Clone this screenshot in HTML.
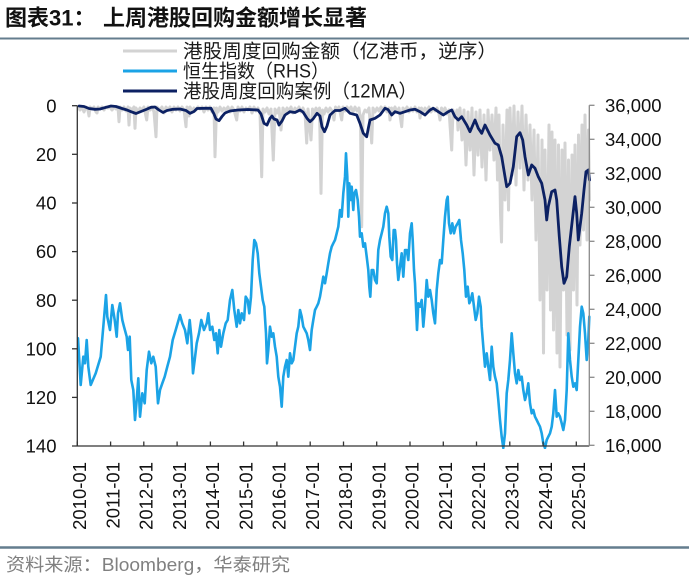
<!DOCTYPE html>
<html>
<head>
<meta charset="utf-8">
<style>
  html,body{margin:0;padding:0;background:#ffffff;}
  svg{display:block;}
  text{font-family:"Liberation Sans","Noto Sans CJK SC",sans-serif;}
</style>
</head>
<body>
<svg width="689" height="586" viewBox="0 0 689 586" xmlns="http://www.w3.org/2000/svg">
  <defs>
    <clipPath id="plot"><rect x="77" y="100" width="514" height="349"/></clipPath>
  </defs>
  <rect width="689" height="586" fill="#ffffff"/>

  <!-- Title -->
  <text x="5" y="25.5" font-size="22" font-weight="bold" fill="#111">图表31：</text>
  <text x="103" y="25.5" font-size="22" font-weight="bold" fill="#111">上周港股回购金额增长显著</text>
  <line x1="0" y1="38.5" x2="689" y2="38.5" stroke="#647d8e" stroke-width="2"/>

  <!-- Legend -->
  <line x1="123" y1="51" x2="177" y2="51" stroke="#d3d3d3" stroke-width="3"/>
  <text x="183" y="57.5" font-size="19" fill="#1a1a1a" textLength="314" lengthAdjust="spacingAndGlyphs">港股周度回购金额（亿港币，逆序）</text>
  <line x1="123" y1="71" x2="177" y2="71" stroke="#1ba3e6" stroke-width="3"/>
  <text x="183" y="77.5" font-size="19" fill="#1a1a1a" textLength="146" lengthAdjust="spacingAndGlyphs">恒生指数（RHS）</text>
  <line x1="123" y1="91" x2="177" y2="91" stroke="#0c2163" stroke-width="3"/>
  <text x="183" y="97.5" font-size="19" fill="#1a1a1a" textLength="234" lengthAdjust="spacingAndGlyphs">港股周度回购案例（12MA）</text>

  <!-- Series -->
  <g clip-path="url(#plot)" fill="none" stroke-linejoin="round" stroke-linecap="round">
    <polyline stroke="#d3d3d3" stroke-width="3" points="78,107 80,110 82,107 84,112 86,107 88,110 89,116 90,107 92,109 94,107 96,112 97,113 98,107 100,109 102,107 104,110 106,107 108,108 110,107 112,110 114,107 116,109 118,107 119,121.7 120,107 122,110 124,107 126,111 128,107 129,125 130,108 132,110 134,107 135,128.3 136,108 138,112 140,108 142,110 144,107 146.7,120 148,107 150,110 152,107 154,112 156,136.7 157,107 160,110 162,107 164,113 166,107 168,110 170,107 172,112 174,107 176,110 178,107 180,111 182,107 184,110 186,126.7 187,107 189,116 190,107 192,111 194,108 196,110 198,107 200,109 202,107 204,112 206,107 208,110 210,107 212,112 214,108 215,156.7 216.5,108 218,112 220,107 222,111 224,108 226,110 228,107 230,112 232,107 234,110 236.7,120 238,107 240,111 242,107 244,112 246,108 248,110 250,107 252,113 254,107 256,111 258,108 260,112 261.7,176.7 263,109 265,112 267,108 269,114 271,109 273.3,160 275,109 277,113 279,108 281,130 283,108 285,112 287,108 289,111 291,107 293,113 295,108 297,111 299,107 301,112 303,108 305,113 306.7,143 308,109 311,140 312.5,109 314,113 316,108 318,112 319.5,108 321,193.3 322.5,110 324,114 326,108 328,112 330,108 332,111 334,120 335.5,107 337,110 339,107 341.7,120 343,107 345,111 347,107 349,110 351,107 353,112 355,107 357,111 359,108 360.5,120 361.7,226.7 363,115 365,110 367,112 369,108 371.7,143 373,108 375,112 377,108 379,111 381,107 383,110 385,107 387,112 389,108 390,120 391.5,108 393,111 395,107 397,112 399,108 401.7,126.7 403,108 405,111 407,107 409,112 411,108 413,111 415,107 417,112 419,108 420,118 421.5,108 423,113 425,108 427,111 429,107 431,112 433,108 435,111 437,108 439,114 440,120 441.5,108 443,112 445,108 447,114 449,110 451.7,150 453,110 455,118 457,110 458,130 459.5,110 460,108 462,140 464,110 466,165 468,112 470,150 472,108 474,175 476,112 478,155 480,110 482,167 484,115 486,180 488,110 490,150 492,115 494,160 496,108 497.5,180 499,115 500.5,213 501.5,242 503,125 505,200 507,110 508.5,210 510,108 512,175 514,106 516,185 518,112 520,168 522,106 524,190 526,115 528,180 530,125 532,200 534,130 536,240 538,135 540,300 542,140 543.5,353 545,150 547,290 549,125 550.5,310 552,132 553.5,330 555,140 557,353 558.5,145 560,367 562,150 563.5,290 565,143 567,335 568.5,160 570,350 572,155 573.5,290 575,145 577,305 578.5,135 580,245 582,125 583.5,230 585,115 587,240 588.5,130 589.5,200"/>

    <polyline stroke="#1ba3e6" stroke-width="2.6" points="78,338.3 80.7,385 83.3,356.7 85,363.3 86.7,340 88.3,366.7 90.7,385 95.7,373.3 100.7,356.7 103.3,326.7 106,295 107.3,316.7 110,330 112.3,305 114.7,320 116.7,336.7 118,313.3 120,303.3 122.3,320 124,326.7 126.7,336.7 128,350 129.7,336.7 131.3,380 133.3,390 135,420 136.7,400 138.3,378.3 140,416.7 142.3,393.3 144.7,403.3 146.7,370 149,351.7 151.3,363.3 153.3,356.7 155.7,366.7 158,403.3 160,390 162.3,383.3 164.7,376.7 167.3,366.7 170,356.7 172.7,340 175.7,330 180,315 182.3,323.3 185,330 187.3,343.3 189.7,320 191.3,336.7 193,373.3 194.7,360 196.7,343.3 199,333.3 201.3,320 204,330 206.7,323.3 208.3,313.3 210,330 212.3,326.7 214.3,340 216,333.3 217.7,353.3 219.3,330 221,346.7 223.3,333.3 225.7,323.3 227.7,320 230,300 232.3,290 234.3,310 236.7,326.7 238.3,310 240,323.3 241.7,313.3 244,320 245.7,296.7 247.7,300 249.3,313.3 251,296.7 252.7,260 254.3,240 256,243.3 257.7,253.3 259.3,273.3 261,286.7 262.7,300 264.3,306.7 266,333.3 267,363.3 268.3,350 270,326.7 271.7,336.7 273.3,333.3 275,346.7 276.7,356.7 278.3,376.7 280,386.7 281.7,406.7 283.3,376.7 285,366.7 286.7,360 288.3,376.7 290,353.3 291.7,363.3 293.3,360 295,346.7 296.7,333.3 298.3,326.7 300,310 301.7,316.7 303.3,326.7 305,330 306.7,333.3 308.3,340 310,350 311.7,330 313.3,320 315,310 316.7,306.7 318.3,303.3 320,296.7 321.7,286.7 323.3,276.7 325,283.3 326.7,273.3 328.3,263.3 330,253.3 331.7,246.7 333.3,243.3 335,240 336.7,233.3 338.3,226.7 340,210 341.7,216.7 343.3,193.3 345,176.7 346,153.3 347.3,176.7 348.3,216.7 349.3,183.3 350.7,200 351.7,186.7 353.3,210 354.3,193.3 356,190 357.7,200 359,216.7 360,236.7 361.7,233.3 363.3,246.7 365,243.3 366.7,256.7 368.3,270 369.3,286.7 370.3,296.7 371.7,270 373.3,270 375,280 376.7,283.3 378.3,250 380,240 381.7,233.3 383.3,226.7 385,213.3 386.7,206.7 388.3,213.3 389.3,236.7 390.7,256.7 392.3,260 393.7,230 395,230 396,240 397,263.3 398.3,280 400,266.7 401.7,253.3 403.3,276.7 405,250 406.7,250 408.3,260 410,233.3 411.7,223.3 412.7,240 414,270 415,283.3 416,306.7 417,330 418.3,303.3 420,306.7 421.7,300 423.3,326.7 425,306.7 426.7,280 428.3,296.7 430,290 431.7,300 433.3,313.3 435,323.3 436.7,290 438.3,273.3 440,260 441.7,263.3 443.3,240 445,216.7 446.7,200 447.7,196.7 449,223.3 450.7,233.3 452.3,223.3 454,233.3 455.7,226.7 457.7,223.3 459.3,220 461,240 462.7,253.3 464.3,270 466,296.7 467.7,286.7 469.3,303.3 470.7,300 472.3,293.3 474,306.7 475.7,320 477.3,313.3 479,296.7 480.7,306.7 481.7,326.7 483.3,346.7 485,366.7 486.7,353.3 488.3,366.7 490,380 491.7,346.7 493.3,366.7 495,376.7 496.7,383.3 498.3,400 500,420 501.7,436.7 503.3,448 505,433.3 506.7,393.3 508.3,380 510,360 511.7,333.3 513.3,353.3 515,373.3 516.7,383.3 518.3,370 520,380 521.7,376.7 523.3,390 525,400 526.7,393.3 528.3,383.3 530,403.3 531.7,413.3 533.3,410 535,416.7 536.7,420 538.3,423.3 540,426.7 541.7,433.3 543.3,443.3 545,448 546.7,440 548.3,436.7 550,433.3 551.7,426.7 553.3,413.3 555,390 556.7,416.7 558.3,413.3 560,416.7 561.7,423.3 563.3,430 565,420 566.7,390 568.3,333.3 570,360 571.7,376.7 573.3,386.7 575,383.3 576.7,390 578.3,360 580,326.7 581.7,306.7 583.3,313.3 585,333.3 586.7,360 588.3,340 589.3,316.7"/>

    <polyline stroke="#0c2163" stroke-width="2.8" points="79,106 84,106.5 89,108.5 95,109.3 100,109 106,107.3 111,106 116,106.5 122,108.5 127,110 131,111.7 136,113.5 141,111.5 146,109.5 151,107.3 155,107 159,110 163,112.5 167,110.5 173,109.3 180,109 186,110.5 190,113.3 194,111.5 197,108.5 205,108.3 211,108.3 214,114 216,119 219,120.7 222,116.5 225,113 230,111 238,110 248,109.5 258,110 261,114 264,123.3 267,125 270,118.3 272,116 274,119 277,120 279,125 282,121 285,115 290,111.7 295,112.5 300,110 303,112 307,118.3 310,121.7 313,119 317,113.3 320,116 322,126.7 324.5,131.7 327,126 330,115 335,110.5 340,110.5 345,108.3 350,113.3 356.7,115 360,123.3 363.3,133.3 366.7,136.7 368.3,128.3 370,120 375,118.3 380,115 385,108.3 388,109.5 391.7,115 395,111.7 400,113.3 405,111.7 410,110 415,109.3 420,111.7 425,115 430,110 433.3,108.3 438.3,111.7 443.3,115 448.3,111.7 451.7,110 455,116.7 458.3,120 461.7,116.7 466.7,125 470,131.7 475,120 478.3,128.3 481.7,133.3 485,125 490,135 495,143.3 498.3,145 501.7,156.7 505,176.7 506.7,186.7 510,183.3 513.3,166.7 516.7,136.7 520,132.7 522.7,140 525,156.7 528.3,175 531.7,165 535,168.3 538.3,176.7 541.7,183.3 545,200 546.7,220 548.3,206.7 551.7,191.7 555,190 556.7,200 559.3,236.7 561.7,266.7 564,283.3 566.7,276.7 569.3,246.7 572.7,216.7 575,196.7 576.7,213.3 578.3,240 581.7,213.3 584,190 586,171.7 588.3,170 589.5,180"/>
  </g>

  <!-- Left axis -->
  <g stroke="#333" stroke-width="1.3">
    <line x1="77.3" y1="105.7" x2="77.3" y2="446"/>
    <line x1="72" y1="446" x2="589.3" y2="446"/>
    <line x1="72" y1="105.7" x2="77.3" y2="105.7"/>
    <line x1="72" y1="154.3" x2="77.3" y2="154.3"/>
    <line x1="72" y1="203" x2="77.3" y2="203"/>
    <line x1="72" y1="251.6" x2="77.3" y2="251.6"/>
    <line x1="72" y1="300.2" x2="77.3" y2="300.2"/>
    <line x1="72" y1="348.8" x2="77.3" y2="348.8"/>
    <line x1="72" y1="397.4" x2="77.3" y2="397.4"/>
    <line x1="77.3" y1="441.5" x2="77.3" y2="446"/>
    <line x1="110.6" y1="441.5" x2="110.6" y2="446"/>
    <line x1="143.8" y1="441.5" x2="143.8" y2="446"/>
    <line x1="177.1" y1="441.5" x2="177.1" y2="446"/>
    <line x1="210.4" y1="441.5" x2="210.4" y2="446"/>
    <line x1="243.6" y1="441.5" x2="243.6" y2="446"/>
    <line x1="276.9" y1="441.5" x2="276.9" y2="446"/>
    <line x1="310.2" y1="441.5" x2="310.2" y2="446"/>
    <line x1="343.5" y1="441.5" x2="343.5" y2="446"/>
    <line x1="376.7" y1="441.5" x2="376.7" y2="446"/>
    <line x1="410" y1="441.5" x2="410" y2="446"/>
    <line x1="443.3" y1="441.5" x2="443.3" y2="446"/>
    <line x1="476.5" y1="441.5" x2="476.5" y2="446"/>
    <line x1="509.8" y1="441.5" x2="509.8" y2="446"/>
    <line x1="543.1" y1="441.5" x2="543.1" y2="446"/>
    <line x1="576.3" y1="441.5" x2="576.3" y2="446"/>
  </g>

  <!-- Right axis -->
  <g stroke="#8a8a8a" stroke-width="1.3">
    <line x1="589.3" y1="105.3" x2="589.3" y2="446"/>
    <line x1="589.3" y1="105.3" x2="594.5" y2="105.3"/>
    <line x1="589.3" y1="139.3" x2="594.5" y2="139.3"/>
    <line x1="589.3" y1="173.3" x2="594.5" y2="173.3"/>
    <line x1="589.3" y1="207.3" x2="594.5" y2="207.3"/>
    <line x1="589.3" y1="241.3" x2="594.5" y2="241.3"/>
    <line x1="589.3" y1="275.3" x2="594.5" y2="275.3"/>
    <line x1="589.3" y1="309.3" x2="594.5" y2="309.3"/>
    <line x1="589.3" y1="343.3" x2="594.5" y2="343.3"/>
    <line x1="589.3" y1="377.3" x2="594.5" y2="377.3"/>
    <line x1="589.3" y1="411.3" x2="594.5" y2="411.3"/>
    <line x1="589.3" y1="445.3" x2="594.5" y2="445.3"/>
  </g>

  <!-- Left labels -->
  <g font-size="18.5" fill="#111" text-anchor="end">
    <text x="56.5" y="112.3">0</text>
    <text x="56.5" y="160.9">20</text>
    <text x="56.5" y="209.6">40</text>
    <text x="56.5" y="258.2">60</text>
    <text x="56.5" y="306.8">80</text>
    <text x="56.5" y="355.4">100</text>
    <text x="56.5" y="404">120</text>
    <text x="56.5" y="452.6">140</text>
  </g>

  <!-- Right labels -->
  <g font-size="18.5" fill="#111">
    <text x="605" y="111.9">36,000</text>
    <text x="605" y="145.9">34,000</text>
    <text x="605" y="179.9">32,000</text>
    <text x="605" y="213.9">30,000</text>
    <text x="605" y="247.9">28,000</text>
    <text x="605" y="281.9">26,000</text>
    <text x="605" y="315.9">24,000</text>
    <text x="605" y="349.9">22,000</text>
    <text x="605" y="383.9">20,000</text>
    <text x="605" y="417.9">18,000</text>
    <text x="605" y="451.9">16,000</text>
  </g>

  <!-- X labels (rotated) -->
  <g font-size="18.5" fill="#111" text-anchor="end">
    <text transform="translate(86,462) rotate(-90)">2010-01</text>
    <text transform="translate(119.3,462) rotate(-90)">2011-01</text>
    <text transform="translate(152.5,462) rotate(-90)">2012-01</text>
    <text transform="translate(185.8,462) rotate(-90)">2013-01</text>
    <text transform="translate(219.1,462) rotate(-90)">2014-01</text>
    <text transform="translate(252.3,462) rotate(-90)">2015-01</text>
    <text transform="translate(285.6,462) rotate(-90)">2016-01</text>
    <text transform="translate(318.9,462) rotate(-90)">2017-01</text>
    <text transform="translate(352.2,462) rotate(-90)">2018-01</text>
    <text transform="translate(385.4,462) rotate(-90)">2019-01</text>
    <text transform="translate(418.7,462) rotate(-90)">2020-01</text>
    <text transform="translate(452,462) rotate(-90)">2021-01</text>
    <text transform="translate(485.2,462) rotate(-90)">2022-01</text>
    <text transform="translate(518.5,462) rotate(-90)">2023-01</text>
    <text transform="translate(551.8,462) rotate(-90)">2024-01</text>
    <text transform="translate(585,462) rotate(-90)">2025-01</text>
  </g>

  <!-- Footer -->
  <line x1="0" y1="547.5" x2="689" y2="547.5" stroke="#647d8e" stroke-width="2.5"/>
  <text x="6" y="571" font-size="18" fill="#808080" textLength="284" lengthAdjust="spacingAndGlyphs">资料来源：Bloomberg，华泰研究</text>
</svg>
</body>
</html>
